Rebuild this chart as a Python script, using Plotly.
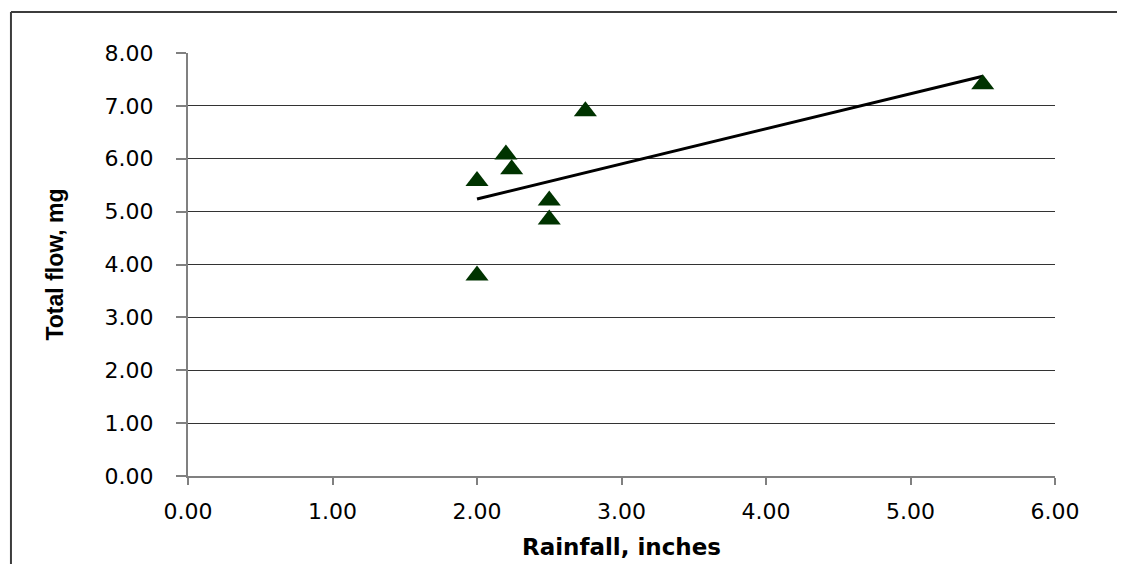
import plotly.graph_objects as go

# Data
rainfall = [2.00, 2.20, 2.24, 2.50, 2.50, 2.00, 2.75, 5.50]
total_flow = [5.58, 6.08, 5.80, 5.21, 4.85, 3.79, 6.90, 7.41]

# Linear trendline endpoints (as drawn in the reference)
trend_x = [2.00, 5.50]
trend_y = [5.24, 7.56]

x_title = "Rainfall, inches"
y_title = "Total flow, mg"

fig = go.Figure()

fig.add_trace(go.Scatter(
    x=trend_x, y=trend_y, mode="lines",
    line=dict(color="black", width=3),
    hoverinfo="skip", showlegend=False,
))

fig.add_trace(go.Scatter(
    x=rainfall, y=total_flow, mode="markers",
    marker=dict(symbol="triangle-up", size=20, color="#003300",
                line=dict(width=0)),
    showlegend=False,
))

tick_font = dict(family="DejaVu Sans", size=22, color="black")

fig.update_layout(
    width=1117, height=556,
    margin=dict(l=180, r=70, t=45, b=88),
    paper_bgcolor="white", plot_bgcolor="white",
    showlegend=False,
    xaxis=dict(
        range=[0, 6], dtick=1, tick0=0, tickformat=".2f",
        showgrid=False, zeroline=False, automargin=False,
        showline=True, linecolor="#808080", linewidth=2,
        ticks="outside", ticklen=7, tickcolor="#808080", tickwidth=2,
        tickfont=tick_font, ticklabelstandoff=8,
        title=dict(text=x_title, standoff=15,
                   font=dict(family="DejaVu Sans", size=23, color="black", weight="bold")),
    ),
    yaxis=dict(
        range=[0, 8], dtick=1, tick0=0, tickformat=".2f",
        showgrid=True, gridcolor="#333333", gridwidth=1,
        zeroline=False, automargin=False,
        showline=True, linecolor="#808080", linewidth=2,
        ticks="outside", ticklen=10, tickcolor="#808080", tickwidth=2,
        tickfont=tick_font, ticklabelstandoff=18,
        title=dict(text=y_title, standoff=35,
                   font=dict(family="Liberation Sans", size=23, color="black", weight="bold")),
    ),
    shapes=[
        dict(type="line", xref="paper", yref="paper",
             x0=-0.2042, x1=1.1, y0=1.0969, y1=1.0969,
             line=dict(color="#3c3c3c", width=2)),
        dict(type="line", xref="paper", yref="paper",
             x0=-0.2042, x1=-0.2042, y0=1.0969, y1=-0.3,
             line=dict(color="#3c3c3c", width=2)),
    ],
)

fig.write_html("out.html")
